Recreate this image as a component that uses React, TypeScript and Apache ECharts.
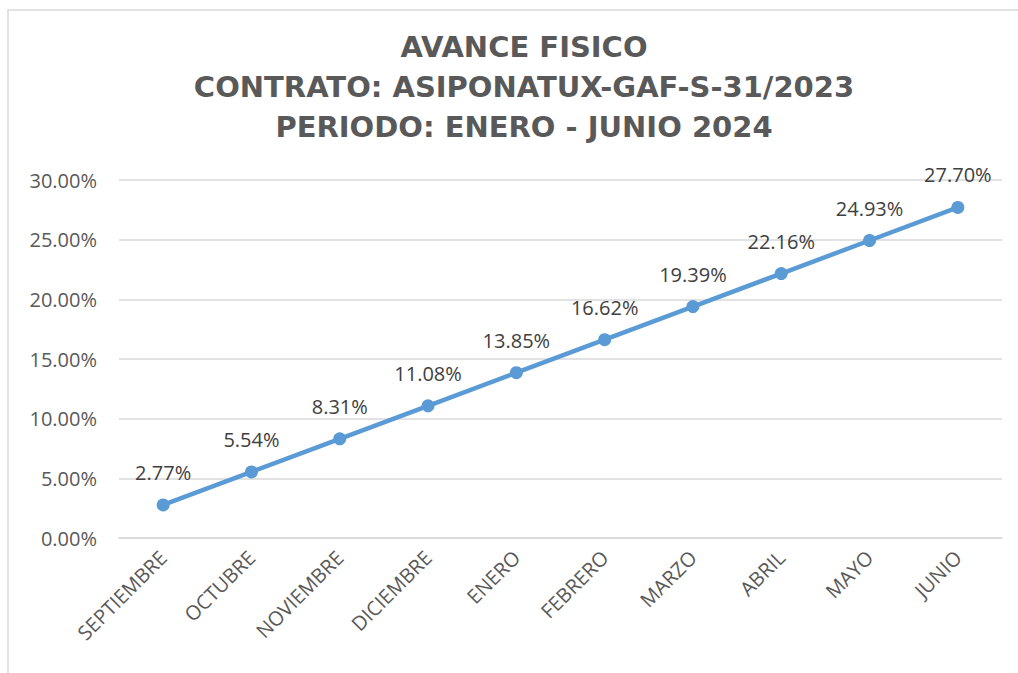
import React, { useEffect, useRef } from "react";
import * as echarts from "echarts";

const categories = ["SEPTIEMBRE", "OCTUBRE", "NOVIEMBRE", "DICIEMBRE", "ENERO", "FEBRERO", "MARZO", "ABRIL", "MAYO", "JUNIO"];
const avance = [2.77, 5.54, 8.31, 11.08, 13.85, 16.62, 19.39, 22.16, 24.93, 27.7];
const titleLines = ["AVANCE FISICO", "CONTRATO: ASIPONATUX-GAF-S-31/2023", "PERIODO: ENERO - JUNIO 2024"];

export default function App() {
  const ref = useRef<HTMLDivElement>(null);
  useEffect(() => {
    if (!ref.current) return;
    const chart = echarts.init(ref.current, null, { renderer: "svg" });
    chart.setOption({
      animation: false,
      backgroundColor: "#ffffff",
      textStyle: { fontFamily: "Open Sans" },
      title: {
        text: titleLines.join("\n"),
        left: 519,
        textAlign: "center",
        top: 22,
        padding: 5,
        textStyle: {
          fontFamily: "DejaVu Sans",
          fontWeight: "bold",
          fontSize: 29,
          lineHeight: 40,
          color: "#595959",
        },
      },
      graphic: [
        {
          type: "rect",
          shape: { x: 8, y: 10, width: 1030, height: 680 },
          style: { fill: "none", stroke: "#d9d9d9", lineWidth: 1.5 },
          silent: true,
        },
      ],
      grid: { left: 119, right: 16, top: 180, bottom: 135 },
      xAxis: {
        type: "category",
        data: categories,
        boundaryGap: true,
        axisLine: { show: true, lineStyle: { color: "#d9d9d9", width: 1.5 } },
        axisTick: { show: false },
        axisLabel: {
          rotate: 45,
          margin: 16,
          fontSize: 20,
          color: "#595959",
          fontFamily: "Open Sans",
          interval: 0,
        },
      },
      yAxis: {
        type: "value",
        min: 0,
        max: 30,
        interval: 5,
        axisLine: { show: false },
        axisTick: { show: false },
        splitLine: { lineStyle: { color: "#d9d9d9", width: 1.5 } },
        axisLabel: {
          formatter: (v: number) => v.toFixed(2) + "%",
          fontSize: 20,
          color: "#595959",
          margin: 22,
          fontFamily: "Open Sans",
        },
      },
      series: [
        {
          type: "line",
          data: avance,
          symbol: "circle",
          symbolSize: 13,
          lineStyle: { color: "#5B9BD5", width: 4.5 },
          itemStyle: { color: "#5B9BD5" },
          label: {
            show: true,
            position: "top",
            distance: 16,
            formatter: (p: any) => p.value.toFixed(2) + "%",
            fontSize: 20,
            color: "#404040",
            fontFamily: "Open Sans",
          },
        },
      ],
    });
    return () => chart.dispose();
  }, []);
  return (
    <div
      ref={ref}
      style={{ position: "absolute", left: 0, top: 0, width: 1018, height: 673 }}
    />
  );
}
